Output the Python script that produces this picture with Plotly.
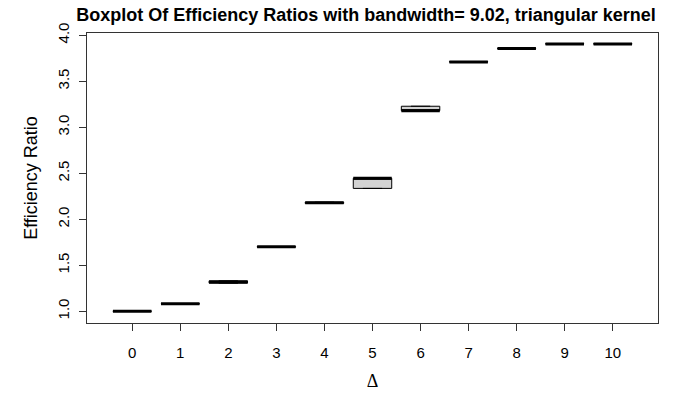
import plotly.graph_objects as go

# Data
deltas = [0, 1, 2, 3, 4, 5, 6, 7, 8, 9, 10]
q1 = [1.000, 1.080, 1.305, 1.697, 2.172, 2.335, 3.180, 3.710, 3.855, 3.905, 3.905]
medians = [1.000, 1.080, 1.318, 1.700, 2.178, 2.445, 3.180, 3.710, 3.855, 3.905, 3.905]
q3 = [1.002, 1.082, 1.330, 1.702, 2.185, 2.445, 3.228, 3.712, 3.857, 3.907, 3.907]
tick_vals_y = [1.0, 1.5, 2.0, 2.5, 3.0, 3.5, 4.0]
tick_text_y = ["1.0", "1.5", "2.0", "2.5", "3.0", "3.5", "4.0"]

title_text = "Boxplot Of Efficiency Ratios with bandwidth= 9.02, triangular kernel"
box_width = 0.8

fig = go.Figure()
fig.add_trace(go.Box(
    x=deltas, q1=q1, median=medians, q3=q3,
    lowerfence=q1, upperfence=q3,
    width=box_width,
    fillcolor="#D3D3D3",
    line=dict(color="#000000", width=1),
    showlegend=False,
    hoverinfo="skip",
))

# thick median lines (R style), built from the data
mx, my = [], []
for d, m in zip(deltas, medians):
    mx += [d - box_width / 2, d + box_width / 2, None]
    my += [m, m, None]
fig.add_trace(go.Scatter(
    x=mx, y=my, mode="lines",
    line=dict(color="#000000", width=3),
    showlegend=False, hoverinfo="skip",
))

axis_common = dict(
    showline=True, linecolor="#333333", linewidth=1, mirror=True,
    ticks="outside", ticklen=7, tickcolor="#333333",
    showgrid=False, zeroline=False, automargin=False,
    tickfont=dict(family="Liberation Sans, Arial, sans-serif", size=15, color="#000000"),
)

fig.update_layout(
    width=676, height=400,
    margin=dict(l=87, r=18, t=33, b=77),
    paper_bgcolor="white", plot_bgcolor="white",
    title=dict(
        text="<b>" + title_text + "</b>",
        font=dict(family="Liberation Sans, Arial, sans-serif", size=18, color="#000000"),
        x=366 / 676, xanchor="center", y=1 - 15 / 400, yanchor="middle",
    ),
    xaxis=dict(
        range=[-0.94, 10.94],
        tickmode="array", tickvals=deltas, ticktext=[str(d) for d in deltas],
        ticklabelstandoff=9,
        title=dict(text="Δ", standoff=14,
                   font=dict(family="Liberation Serif, DejaVu Serif, serif", size=18, color="#000000")),
        **axis_common,
    ),
    yaxis=dict(
        range=[0.872, 4.024],
        tickmode="array", tickvals=tick_vals_y, ticktext=tick_text_y,
        tickangle=-90,
        ticklabelstandoff=4,
        title=dict(text="Efficiency Ratio", standoff=12,
                   font=dict(family="Liberation Sans, Arial, sans-serif", size=18, color="#000000")),
        **axis_common,
    ),
)

fig.write_html("out.html", config={"displayModeBar": False},
               post_script="document.body.style.margin='0';")
